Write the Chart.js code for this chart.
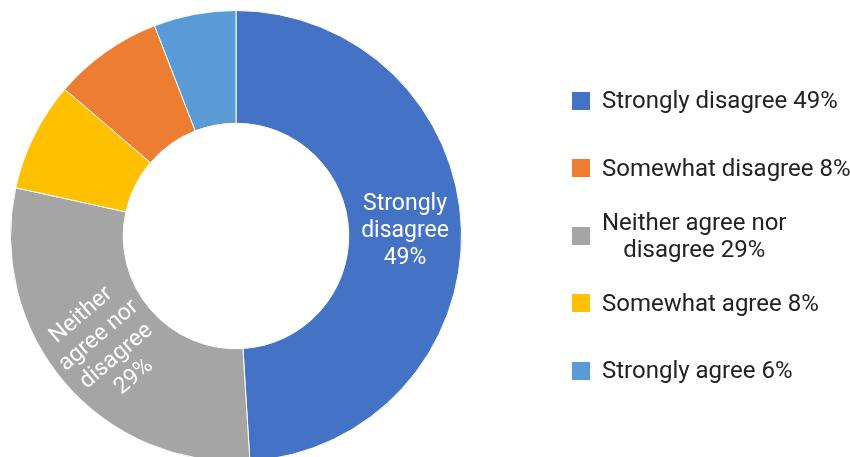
<!DOCTYPE html>
<html><head><meta charset="utf-8">
<script src="https://cdn.jsdelivr.net/npm/chart.js@4/dist/chart.umd.min.js"></script>
<style>
html,body{margin:0;padding:0;background:#fff;overflow:hidden;width:850px;height:457px;}
#c{position:absolute;left:0;top:0;}
#legend{position:absolute;left:572px;top:67px;font-family:Roboto,"Liberation Sans",sans-serif;font-size:24px;color:#222;}
.item{height:67.5px;display:flex;align-items:center;}
.sw{width:18px;height:18px;flex:none;margin-right:12px;}
.tx{display:inline-block;text-align:center;line-height:27px;white-space:nowrap;}
</style></head>
<body>
<canvas id="c" width="850" height="470"></canvas>
<div id="legend"></div>
<script>
// Legend order
const categories = ["Strongly disagree","Somewhat disagree","Neither agree nor disagree","Somewhat agree","Strongly agree"];
// Responses per category; labels show rounded shares
const counts = [100, 16, 60, 16, 12];
const colors = ["#4472C4","#ED7D31","#A5A5A5","#FFC000","#5B9BD5"];
// Order in which slices go clockwise from the top (indices into the arrays above)
const sliceOrder = [0, 2, 3, 1, 4];

const total = counts.reduce((a, b) => a + b, 0);
const pct = v => Math.round(100 * v / total) + '%';

const SLICE_FONT = '23px Roboto, "Liberation Sans", sans-serif';
const LEGEND_FONT = '24px Roboto, "Liberation Sans", sans-serif';

function wrap(ctx, text, maxW) {
  const words = text.split(' ');
  const lines = [];
  let cur = '';
  for (const w of words) {
    const t = cur ? cur + ' ' + w : w;
    if (cur && ctx.measureText(t).width > maxW) { lines.push(cur); cur = w; }
    else cur = t;
  }
  if (cur) lines.push(cur);
  return lines;
}

const sliceLabels = {
  id: 'sliceLabels',
  afterDatasetsDraw(chart, args, opts) {
    const ctx = chart.ctx;
    const meta = chart.getDatasetMeta(0);
    const ds = chart.data.datasets[0];
    meta.data.forEach((arc, i) => {
      const v = ds.data[i];
      if (v / total < opts.minShare) return;
      ctx.save();
      ctx.font = SLICE_FONT;
      ctx.fillStyle = '#fff';
      ctx.textAlign = 'center';
      ctx.textBaseline = 'middle';
      const lines = wrap(ctx, chart.data.labels[i] + ' ' + pct(v), opts.wrapWidth);
      const p = arc.tooltipPosition();
      const mid = (arc.startAngle + arc.endAngle) / 2;
      ctx.translate(p.x, p.y);
      if (Math.cos(mid) < 0) ctx.rotate(mid - Math.PI);
      const lh = opts.lineHeight;
      lines.forEach((ln, k) => {
        ctx.fillText(ln, 0, (k - (lines.length - 1) / 2) * lh);
      });
      ctx.restore();
    });
  }
};

new Chart(document.getElementById('c'), {
  type: 'doughnut',
  data: {
    labels: sliceOrder.map(i => categories[i]),
    datasets: [{
      data: sliceOrder.map(i => counts[i]),
      backgroundColor: sliceOrder.map(i => colors[i]),
      borderColor: '#fff',
      borderWidth: 1
    }]
  },
  options: {
    responsive: false,
    animation: false,
    cutout: '50%',
    layout: { padding: { left: 10, top: 10, right: 388, bottom: 8 } },
    plugins: {
      legend: { display: false },
      tooltip: { enabled: false },
      sliceLabels: { minShare: 0.2, wrapWidth: 105, lineHeight: 27 }
    }
  },
  plugins: [sliceLabels]
});

// HTML legend
const lg = document.getElementById('legend');
const mctx = document.createElement('canvas').getContext('2d');
mctx.font = LEGEND_FONT;
categories.forEach((cat, i) => {
  const item = document.createElement('div');
  item.className = 'item';
  const sw = document.createElement('div');
  sw.className = 'sw';
  sw.style.background = colors[i];
  const tx = document.createElement('div');
  tx.className = 'tx';
  wrap(mctx, cat + ' ' + pct(counts[i]), 255).forEach(line => {
    const d = document.createElement('div');
    d.textContent = line;
    tx.appendChild(d);
  });
  item.appendChild(sw);
  item.appendChild(tx);
  lg.appendChild(item);
});
</script>
</body></html>
